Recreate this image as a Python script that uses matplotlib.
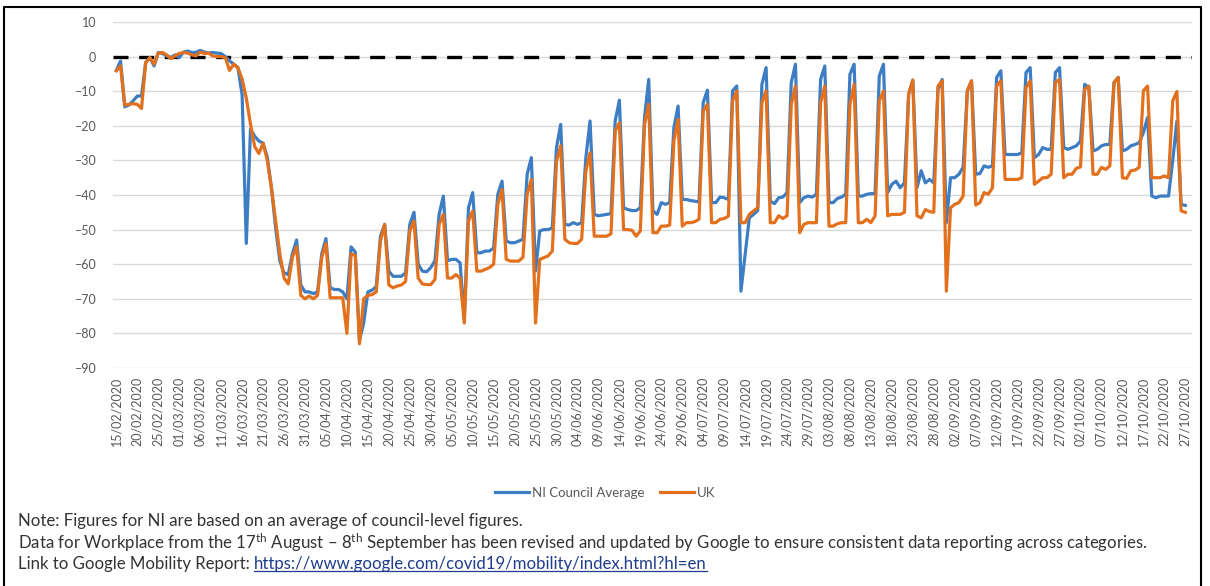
import pandas as pd
import matplotlib
matplotlib.use("Agg")
from matplotlib import pyplot as plt
from matplotlib.lines import Line2D

# Google mobility, workplaces: % change from baseline, daily 15/02/2020 - 27/10/2020
start_date = "2020-02-15"
end_date = "2020-10-27"

ni_council_avg = [
    -4.0, -1.3, -14.5, -14.0, -12.8, -11.4, -11.4,
    -1.7, -0.3, -2.7, 1.2, 0.9, 0.2, -0.3,
    0.5, -0.3, 1.3, 1.6, 1.2, 1.2, 1.8,
    1.3, 1.0, 1.2, 1.0, 0.9, 0.0, -1.2,
    -2.2, -3.2, -11.0, -54.0, -21.0, -23.0, -24.4,
    -25.0, -29.0, -38.0, -49.5, -59.0, -62.5, -63.0,
    -57.0, -53.0, -66.0, -68.0, -68.0, -68.5, -68.0,
    -57.0, -52.6, -66.8, -67.3, -67.3, -68.0, -70.0,
    -55.0, -56.5, -82.0, -77.0, -68.0, -67.5, -66.5,
    -52.0, -48.5, -62.0, -63.5, -63.5, -63.5, -62.5,
    -48.5, -45.0, -60.0, -62.0, -62.2, -61.0, -59.0,
    -45.6, -40.3, -59.0, -58.6, -58.6, -59.6, -76.0,
    -43.7, -39.3, -56.7, -56.7, -56.2, -56.2, -55.3,
    -39.8, -36.0, -53.3, -53.8, -53.8, -53.3, -52.8,
    -34.0, -29.2, -62.0, -50.4, -50.0, -50.0, -49.5,
    -26.3, -19.6, -48.5, -48.7, -48.0, -48.5, -48.0,
    -29.2, -18.6, -45.6, -46.0, -45.8, -45.6, -45.4,
    -18.6, -12.6, -43.7, -44.2, -44.5, -44.5, -43.7,
    -17.6, -6.6, -44.6, -45.6, -42.2, -42.7, -42.2,
    -20.5, -14.3, -41.3, -41.3, -41.6, -41.8, -42.0,
    -13.3, -9.7, -42.2, -42.2, -40.6, -40.8, -41.3,
    -9.9, -8.5, -67.8, -57.2, -46.6, -45.6, -44.5,
    -8.0, -3.2, -41.8, -42.5, -40.8, -40.6, -39.3,
    -7.5, -2.2, -42.2, -40.8, -40.3, -40.6, -39.8,
    -6.6, -2.7, -42.2, -42.2, -41.0, -40.6, -39.8,
    -5.1, -2.2, -40.3, -40.3, -39.8, -39.6, -39.6,
    -5.6, -2.2, -39.3, -36.9, -36.0, -37.9, -36.5,
    -10.9, -6.8, -37.9, -33.0, -36.5, -35.5, -36.5,
    -9.5, -6.6, -48.0, -35.0, -35.0, -34.0, -32.0,
    -9.9, -7.0, -34.0, -33.8, -31.6, -32.0, -31.6,
    -6.0, -4.1, -28.3, -28.3, -28.3, -28.3, -27.8,
    -4.6, -3.2, -29.2, -28.3, -26.3, -26.8, -26.8,
    -4.6, -3.2, -26.3, -26.8, -26.3, -25.8, -24.4,
    -8.0, -9.0, -27.3, -26.8, -25.8, -25.4, -25.4,
    -7.5, -6.0, -27.3, -26.8, -25.8, -25.4, -24.9,
    -22.0, -17.6, -40.3, -40.8, -40.3, -40.3, -40.3,
    -30.0, -18.6, -42.7, -43.0,
]

uk = [
    -4.1, -2.7, -14.0, -13.8, -13.6, -13.8, -15.0,
    -1.7, -0.3, -2.2, 1.0, 1.2, 0.5, -0.6,
    0.2, 0.9, 1.2, 1.0, 0.5, 0.2, 1.3,
    0.9, 1.0, 0.2, 0.0, 0.0, -0.3, -4.0,
    -2.2, -3.2, -6.5, -12.0, -19.5, -26.0, -28.0,
    -25.0, -30.0, -38.0, -47.5, -57.0, -64.0, -65.7,
    -58.0, -55.0, -69.0, -70.0, -69.2, -70.0, -69.0,
    -58.0, -54.0, -69.7, -69.7, -69.7, -69.7, -80.0,
    -57.0, -57.5, -83.0, -70.0, -69.0, -68.8, -68.0,
    -53.3, -48.5, -66.0, -66.8, -66.3, -66.0, -65.0,
    -50.4, -47.5, -64.0, -65.7, -65.9, -65.9, -64.4,
    -48.5, -45.6, -64.0, -64.0, -63.0, -64.0, -77.0,
    -47.5, -44.6, -62.0, -62.0, -61.5, -61.0, -60.0,
    -42.7, -38.4, -58.6, -59.1, -59.1, -59.1, -58.0,
    -39.8, -35.5, -77.0, -58.6, -58.1, -57.6, -56.2,
    -30.2, -25.8, -52.8, -53.8, -54.0, -54.0, -52.8,
    -33.0, -27.8, -51.9, -51.9, -51.9, -51.9, -51.2,
    -21.5, -19.1, -50.0, -50.0, -50.2, -51.9, -50.4,
    -19.6, -13.8, -50.9, -50.9, -49.0, -49.0, -48.7,
    -24.4, -18.1, -49.0, -48.0, -48.0, -47.7, -47.0,
    -15.7, -13.8, -48.0, -48.0, -47.0, -46.8, -46.1,
    -12.8, -9.9, -48.0, -48.0, -45.6, -44.6, -43.7,
    -13.3, -9.9, -48.0, -48.0, -46.0, -46.8, -46.0,
    -13.8, -8.5, -50.9, -48.5, -48.0, -48.0, -48.0,
    -13.3, -8.5, -49.0, -49.0, -48.3, -48.0, -48.0,
    -13.8, -8.0, -48.0, -48.0, -47.0, -48.0, -46.0,
    -12.8, -9.9, -46.0, -45.6, -45.6, -45.6, -45.0,
    -10.9, -6.8, -46.0, -46.6, -44.2, -44.8, -45.0,
    -8.5, -7.0, -67.8, -43.7, -42.7, -42.2, -40.3,
    -9.9, -7.0, -42.9, -42.2, -39.3, -39.8, -37.9,
    -8.5, -7.0, -35.5, -35.5, -35.5, -35.5, -35.0,
    -9.0, -7.0, -36.9, -36.0, -35.0, -35.0, -34.0,
    -7.5, -6.6, -35.0, -34.0, -34.0, -32.3, -31.9,
    -9.5, -8.5, -34.0, -34.0, -32.0, -32.6, -31.6,
    -7.5, -6.0, -35.0, -35.2, -33.0, -32.8, -32.0,
    -9.9, -8.5, -35.0, -35.0, -35.0, -34.5, -35.0,
    -12.8, -10.1, -44.6, -45.0,
]

series_labels = ["NI Council Average", "UK"]
note_lines = [
    "Note: Figures for NI are based on an average of council-level figures.",
    "Data for Workplace from the 17$^{\\mathrm{th}}$ August \u2013 8$^{\\mathrm{th}}$ September has been "
    "revised and updated by Google to ensure consistent data reporting across categories.",
]
link_prefix = "Link to Google Mobility Report: "
link_url = "https://www.google.com/covid19/mobility/index.html?hl=en"

dates = pd.date_range(start_date, end_date, freq="D")
tick_pos = list(range(0, len(dates), 5))
tick_labels = [dates[i].strftime("%d/%m/%Y") for i in tick_pos]

plt.rcParams.update({
    "font.family": ["Lato", "DejaVu Sans"],
    "mathtext.fontset": "custom",
    "mathtext.rm": "Lato",
    "mathtext.it": "Lato:italic",
    "mathtext.bf": "Lato:bold",
})

blue = "#3C7DC4"
orange = "#E2701C"
tick_col = "#595959"

fig = plt.figure(figsize=(12.1, 5.86), dpi=100)
ax = fig.add_axes([113 / 1210, 1 - 368 / 586, (1192 - 113) / 1210, (368 - 22) / 586])

x = list(range(len(dates)))
ax.plot(x, ni_council_avg, color=blue, lw=2.3, label=series_labels[0], solid_joinstyle="round")
ax.plot(x, uk, color=orange, lw=2.3, label=series_labels[1], solid_joinstyle="round")
ax.axhline(0, color="black", lw=2.4, dashes=(4.5, 3.2), zorder=1)

ax.set_xlim(-0.8, 256.6)
ax.set_ylim(-90, 10)
ax.set_yticks(range(-90, 11, 10))
ax.yaxis.grid(True, color="#D9D9D9", lw=1.0)
ax.set_axisbelow(True)
ax.set_xticks(tick_pos)
ax.set_xticklabels(tick_labels, rotation=90)
ax.tick_params(axis="both", length=0, labelsize=9, labelcolor=tick_col)
ax.tick_params(axis="x", pad=6)
ax.tick_params(axis="y", pad=12)
for s in ax.spines.values():
    s.set_visible(False)

fig.legend(loc="center", bbox_to_anchor=(0.5, 1 - 493 / 586), ncol=2, frameon=False,
           fontsize=9.5, handlelength=2.6, columnspacing=1.2, handletextpad=0.2,
           labelcolor=tick_col)

# notes below the chart
txt_kw = dict(fontsize=12.1, color="#333333", va="center", ha="left")
fig.text(18 / 1210, 1 - 521 / 586, note_lines[0], **txt_kw)
fig.text(18 / 1210, 1 - 543 / 586, note_lines[1], **txt_kw)
pre = fig.text(18 / 1210, 1 - 564 / 586, link_prefix, **txt_kw)

fig.canvas.draw()
r = fig.canvas.get_renderer()
bb = pre.get_window_extent(r)
url = fig.text(bb.x1 / 1210, 1 - 564 / 586, link_url, fontsize=12.1, color="#1F3D8C",
               va="center", ha="left")
ub = url.get_window_extent(r)
fig.add_artist(Line2D([ub.x0 / 1210, ub.x1 / 1210], [(ub.y0 + 1) / 586] * 2,
                      color="#1F3D8C", lw=0.9))

# outer frame
fig.add_artist(Line2D([4 / 1210, 4 / 1210, 1201 / 1210, 1201 / 1210],
                      [0, 1 - 7 / 586, 1 - 7 / 586, 0], color="black", lw=1.5))

fig.savefig("out.png", dpi=100)
